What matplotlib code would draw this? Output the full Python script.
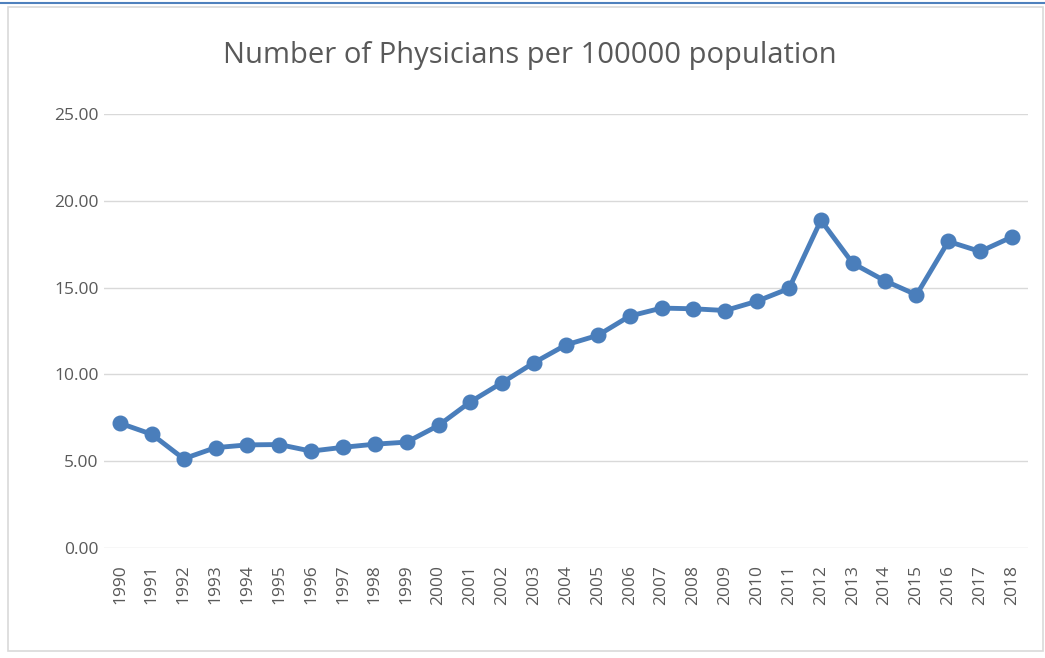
import matplotlib.pyplot as plt
from matplotlib.patches import Rectangle
from matplotlib.lines import Line2D

years = [str(y) for y in range(1990, 2019)]
physicians = [7.19, 6.55, 5.14, 5.78, 5.94, 5.96, 5.58, 5.80, 5.98, 6.10,
              7.06, 8.42, 9.53, 10.68, 11.70, 12.25, 13.36, 13.82, 13.78, 13.68,
              14.22, 14.95, 18.88, 16.40, 15.40, 14.58, 17.66, 17.08, 17.92]
yticks = [0, 5, 10, 15, 20, 25]

plt.rcParams['font.family'] = ['Open Sans', 'DejaVu Sans']

fig = plt.figure(figsize=(10.45, 6.58), dpi=100)

# outer chart frame and the blue line along the top
fig.add_artist(Rectangle((8 / 1045, 1 - 651 / 658), 1035 / 1045, 644 / 658,
                         transform=fig.transFigure, fill=False,
                         edgecolor='#d9d9d9', linewidth=1.2))
fig.add_artist(Line2D([0, 1], [1 - 3 / 658, 1 - 3 / 658], transform=fig.transFigure,
                      color='#4f81bd', linewidth=1.5))

ax = fig.add_axes([104 / 1045, 1 - 548 / 658, 924 / 1045, 434 / 658])
x = list(range(len(years)))
ax.plot(x, physicians, color='#4a7ebb', linewidth=3.5, marker='o',
        markersize=10.5, markeredgecolor='#4a7ebb', zorder=3)

ax.set_xlim(-0.5, len(years) - 0.5)
ax.set_ylim(0, 25)
ax.set_yticks(yticks)
ax.set_yticklabels([f"{v:.2f}" for v in yticks])
ax.set_xticks(x)
ax.set_xticklabels(years, rotation=90)
ax.tick_params(length=0, colors='#595959', labelsize=12.5)
ax.tick_params(axis='y', pad=4)
ax.tick_params(axis='x', pad=12)
ax.grid(axis='y', color='#d9d9d9', linewidth=1)
ax.set_axisbelow(True)
for s in ax.spines.values():
    s.set_visible(False)

fig.text(530 / 1045, 1 - 55 / 658, "Number of Physicians per 100000 population",
         ha='center', va='center', fontsize=21, color='#595959')

fig.savefig('out.png', dpi=100)
